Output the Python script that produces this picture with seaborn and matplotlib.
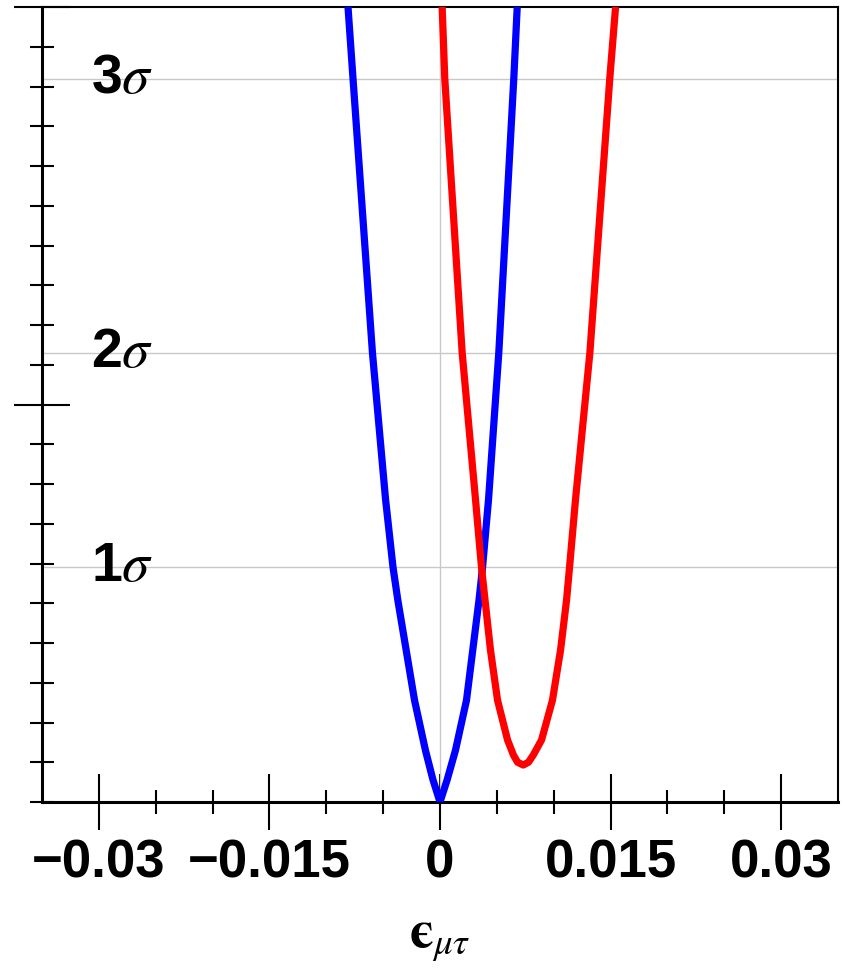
import numpy as np
import pandas as pd
import matplotlib
matplotlib.use("Agg")
import matplotlib.pyplot as plt
import seaborn as sns
from matplotlib.ticker import FixedLocator

# Profile curves: epsilon_mu_tau vs test statistic
blue_x = [-0.00809, -0.00765, -0.00594, -0.00479, -0.00413, -0.00371, -0.00224,
          -0.00128, -0.00062, 0.0, 0.00063, 0.00136, 0.00233, 0.00343, 0.00374,
          0.00427, 0.00517, 0.00649, 0.00679]
blue_y = [10.0, 9.10, 5.65, 3.81, 2.95, 2.54, 1.28, 0.65, 0.28, 0.0, 0.28, 0.65,
          1.28, 2.54, 2.95, 3.81, 5.65, 9.10, 10.0]

red_x = [0.00019, 0.00042, 0.00195, 0.00312, 0.00365, 0.00396, 0.00444, 0.00506,
         0.00594, 0.00646, 0.00682, 0.00732, 0.00778, 0.00820, 0.00893, 0.00989,
         0.01060, 0.01113, 0.01139, 0.01192, 0.01318, 0.01493, 0.01544]
red_y = [10.0, 9.10, 5.65, 3.81, 2.95, 2.54, 1.91, 1.28, 0.78, 0.59, 0.50, 0.465,
         0.50, 0.59, 0.78, 1.28, 1.91, 2.54, 2.95, 3.81, 5.65, 9.10, 10.0]

sigma_levels = [2.95, 5.65, 9.10]
sigma_labels = ["1", "2", "3"]

x_ticks = [-0.03, -0.015, 0.0, 0.015, 0.03]
x_tick_labels = ["\u22120.03", "\u22120.015", "0", "0.015", "0.03"]
x_minor = [-0.025, -0.02, -0.01, -0.005, 0.005, 0.01, 0.02, 0.025]
y_major = [5.0, 10.0]
y_minor = [0.0, 0.5, 1.0, 1.5, 2.0, 2.5, 3.0, 3.5, 4.0, 4.5,
           5.5, 6.0, 6.5, 7.0, 7.5, 8.0, 8.5, 9.0, 9.5]

sns.set_theme(style="white")
plt.rcParams["font.family"] = ["Liberation Sans", "DejaVu Sans"]
plt.rcParams["mathtext.fontset"] = "stix"
plt.rcParams["text.color"] = "black"
plt.rcParams["xtick.labelcolor"] = "black"
plt.rcParams["axes.labelcolor"] = "black"

df = pd.concat([
    pd.DataFrame({"eps": blue_x, "val": blue_y, "set": "blue"}),
    pd.DataFrame({"eps": red_x, "val": red_y, "set": "red"}),
], ignore_index=True)

fig = plt.figure(figsize=(8.45, 9.73), dpi=100)
ax = fig.add_axes([42 / 845, 1 - 802 / 973, 796 / 845, 795 / 973])

# reference grid
ax.axvline(0, color="#c8c8c8", lw=1.0, zorder=1)
for lvl in sigma_levels:
    ax.axhline(lvl, color="#c8c8c8", lw=1.0, zorder=1)

sns.lineplot(data=df, x="eps", y="val", hue="set", sort=False,
             palette={"blue": "#0000ff", "red": "#ff0000"}, lw=5.2,
             legend=False, ax=ax, zorder=3)
for line in ax.get_lines():
    line.set_solid_joinstyle("round")
    line.set_solid_capstyle("butt")

ax.set_xlim(-0.035, 0.035)
ax.set_ylim(0, 10)

for lvl, lab in zip(sigma_levels, sigma_labels):
    ax.text(-0.0307, lvl, lab + r"$\sigma$", fontsize=40, fontweight="bold",
            color="black", ha="left", va="center", zorder=4)

ax.xaxis.set_major_locator(FixedLocator(x_ticks))
ax.set_xticklabels(x_tick_labels)
ax.xaxis.set_minor_locator(FixedLocator(x_minor))
ax.yaxis.set_major_locator(FixedLocator(y_major))
ax.yaxis.set_minor_locator(FixedLocator(y_minor))
ax.set_yticklabels([])

ax.tick_params(axis="x", which="major", direction="inout", length=40, width=1.5,
               color="black", labelsize=38, pad=6, bottom=True, labelcolor="black")
ax.tick_params(axis="x", which="minor", direction="inout", length=17, width=1.5,
               color="black", bottom=True)
ax.tick_params(axis="y", which="major", direction="inout", length=40, width=1.5,
               color="black", left=True)
ax.tick_params(axis="y", which="minor", direction="inout", length=17, width=1.5,
               color="black", left=True)
for t in ax.get_xticklabels():
    t.set_fontweight("bold")

for side in ["left", "bottom"]:
    ax.spines[side].set_linewidth(2.2)
    ax.spines[side].set_color("black")
for side in ["top", "right"]:
    ax.spines[side].set_linewidth(1.5)
    ax.spines[side].set_color("black")

ax.set_xlabel("$\\mathbf{\u03f5}_{\\mu\\tau}$", fontsize=38, labelpad=18, color="black")
ax.set_ylabel("")

fig.savefig("out.png", dpi=100)
